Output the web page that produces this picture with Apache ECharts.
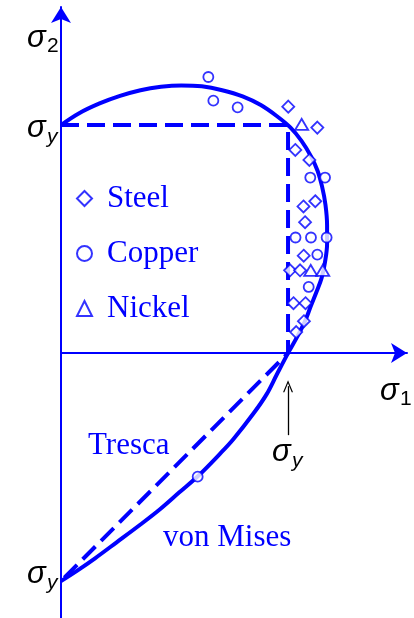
<!DOCTYPE html>
<html>
<head>
<meta charset="utf-8">
<script src="https://cdn.jsdelivr.net/npm/echarts@6/dist/echarts.min.js"></script>
<style>
  html, body { margin: 0; padding: 0; background: #ffffff; }
  #chart { width: 414px; height: 618px; }
</style>
</head>
<body>
<div id="chart"></div>
<script>
// Biaxial yield tests, stresses normalised by the uniaxial yield stress σy: [σ1/σy, σ2/σy]
const steel = [
  [1.001, 1.081], [1.129, 0.989], [1.032, 0.891], [1.094, 0.847],
  [1.120, 0.666], [1.068, 0.643], [1.075, 0.574], [1.069, 0.427],
  [1.009, 0.363], [1.053, 0.363], [1.024, 0.219], [1.077, 0.219],
  [1.070, 0.140], [1.036, 0.092]
];
const copper = [
  [0.649, 1.211], [0.671, 1.107], [0.778, 1.078], [1.098, 0.770],
  [1.163, 0.770], [1.033, 0.507], [1.101, 0.507], [1.170, 0.507],
  [1.129, 0.432], [1.091, 0.290], [0.602, -0.542]
];
const nickel = [
  [1.060, 1.003], [1.100, 0.363], [1.153, 0.363]
];

// von Mises yield locus, traced from (0, σy) round to (0, -σy)
const vonMises = [
  [0.000, 1.000], [0.080, 1.052], [0.170, 1.095], [0.260, 1.128],
  [0.350, 1.153], [0.440, 1.168], [0.530, 1.174], [0.620, 1.170],
  [0.710, 1.153], [0.800, 1.126], [0.880, 1.088], [0.950, 1.040],
  [1.010, 0.990], [1.060, 0.930], [1.100, 0.865], [1.130, 0.800],
  [1.150, 0.730], [1.165, 0.650], [1.172, 0.560], [1.172, 0.480],
  [1.163, 0.400], [1.148, 0.330], [1.126, 0.270], [1.100, 0.205],
  [1.075, 0.140], [1.045, 0.080], [1.000, 0.000], [0.950, -0.095],
  [0.906, -0.180], [0.850, -0.262], [0.759, -0.378], [0.700, -0.442],
  [0.605, -0.538], [0.520, -0.612], [0.436, -0.685], [0.350, -0.752],
  [0.245, -0.830], [0.150, -0.900], [0.070, -0.955], [0.000, -1.000]
];

// Tresca yield locus (maximum shear stress)
const tresca = [[0, 1], [1, 1], [1, 0], [0, -1]];

// Pointer to the uniaxial yield point on the σ1 axis
const yieldPointer = [[1, -0.36], [1, -0.145]];

const seriesNames = ['Steel', 'Copper', 'Nickel'];
const axisTitles = { x: ['σ', '1'], y: ['σ', '2'] };
const yieldTick = ['σ', 'y'];

const BLUE = '#0000ff';
const serif = '"Liberation Serif", "Times New Roman", serif';
const sans = '"Liberation Sans", Arial, sans-serif';

const chart = echarts.init(document.getElementById('chart'), null, { renderer: 'canvas' });

function axisStyle(min, max) {
  return {
    type: 'value', min: min, max: max,
    axisLine: {
      onZero: true,
      symbol: ['none', 'arrow'],
      symbolSize: [15, 16],
      lineStyle: { color: BLUE, width: 2 }
    },
    axisTick: { show: false },
    axisLabel: { show: false },
    splitLine: { show: false }
  };
}

function markerStyle() {
  return { color: '#ffffff', borderColor: BLUE, borderWidth: 1.8 };
}

function txt(x, y, text, size, italic, color, family) {
  return {
    type: 'text', x: x, y: y, silent: true, z: 20,
    style: {
      text: text, fontSize: size, fontFamily: family || sans,
      fontStyle: italic ? 'italic' : 'normal', fill: color,
      align: 'left', verticalAlign: 'middle'
    }
  };
}

// symbol with subscript: [σ, sub]
function symbolLabel(x, y, parts, subItalic) {
  return [
    txt(x, y, parts[0], 31, true, '#000'),
    txt(x + 20, y + (subItalic ? 9 : 8), parts[1], 21, subItalic, '#000')
  ];
}

const option = {
  animation: false,
  backgroundColor: '#ffffff',
  grid: { left: 61, top: 7, width: 346, height: 611 },
  xAxis: axisStyle(0, 1.524),
  yAxis: axisStyle(-1.162, 1.518),
  legend: {
    orient: 'vertical',
    left: 71, top: 178,
    itemWidth: 15, itemHeight: 15, itemGap: 24,
    selectedMode: false,
    data: seriesNames,
    textStyle: {
      fontFamily: serif, fontSize: 31, lineHeight: 31, color: BLUE,
      padding: [0, 0, 0, 10]
    }
  },
  series: [
    {
      type: 'line', data: tresca, symbol: 'none', clip: false, z: 2,
      lineStyle: { color: BLUE, width: 4, type: [18, 8] },
      markLine: {
        silent: true, animation: false,
        symbol: ['none', 'path://M5,0 L10,10 L8.7,10 L5,2.6 L1.3,10 L0,10 Z'],
        symbolSize: [10, 12],
        lineStyle: { color: '#000', width: 1.3, type: 'solid' },
        label: { show: false },
        data: [[{ coord: yieldPointer[0] }, { coord: yieldPointer[1] }]]
      }
    },
    {
      type: 'line', data: vonMises, symbol: 'none', smooth: 0.35, clip: false, z: 2,
      lineStyle: { color: BLUE, width: 4 }
    },
    {
      name: seriesNames[0], type: 'scatter', data: steel, z: 3,
      symbol: 'diamond', symbolSize: 12, itemStyle: markerStyle()
    },
    {
      name: seriesNames[1], type: 'scatter', data: copper, z: 3,
      symbol: 'circle', symbolSize: 10, itemStyle: markerStyle()
    },
    {
      name: seriesNames[2], type: 'scatter', data: nickel, z: 3,
      symbol: 'triangle', symbolSize: [13, 11], itemStyle: markerStyle()
    }
  ],
  graphic: [].concat(
    symbolLabel(27, 38, axisTitles.y, false),
    symbolLabel(380, 391, axisTitles.x, false),
    symbolLabel(27, 128.5, yieldTick, true),
    symbolLabel(27, 574.5, yieldTick, true),
    symbolLabel(272, 452, yieldTick, true),
    [
      txt(88, 445.5, 'Tresca', 31, false, BLUE, serif),
      txt(163, 537.5, 'von Mises', 31, false, BLUE, serif)
    ]
  )
};

chart.setOption(option);
</script>
</body>
</html>
